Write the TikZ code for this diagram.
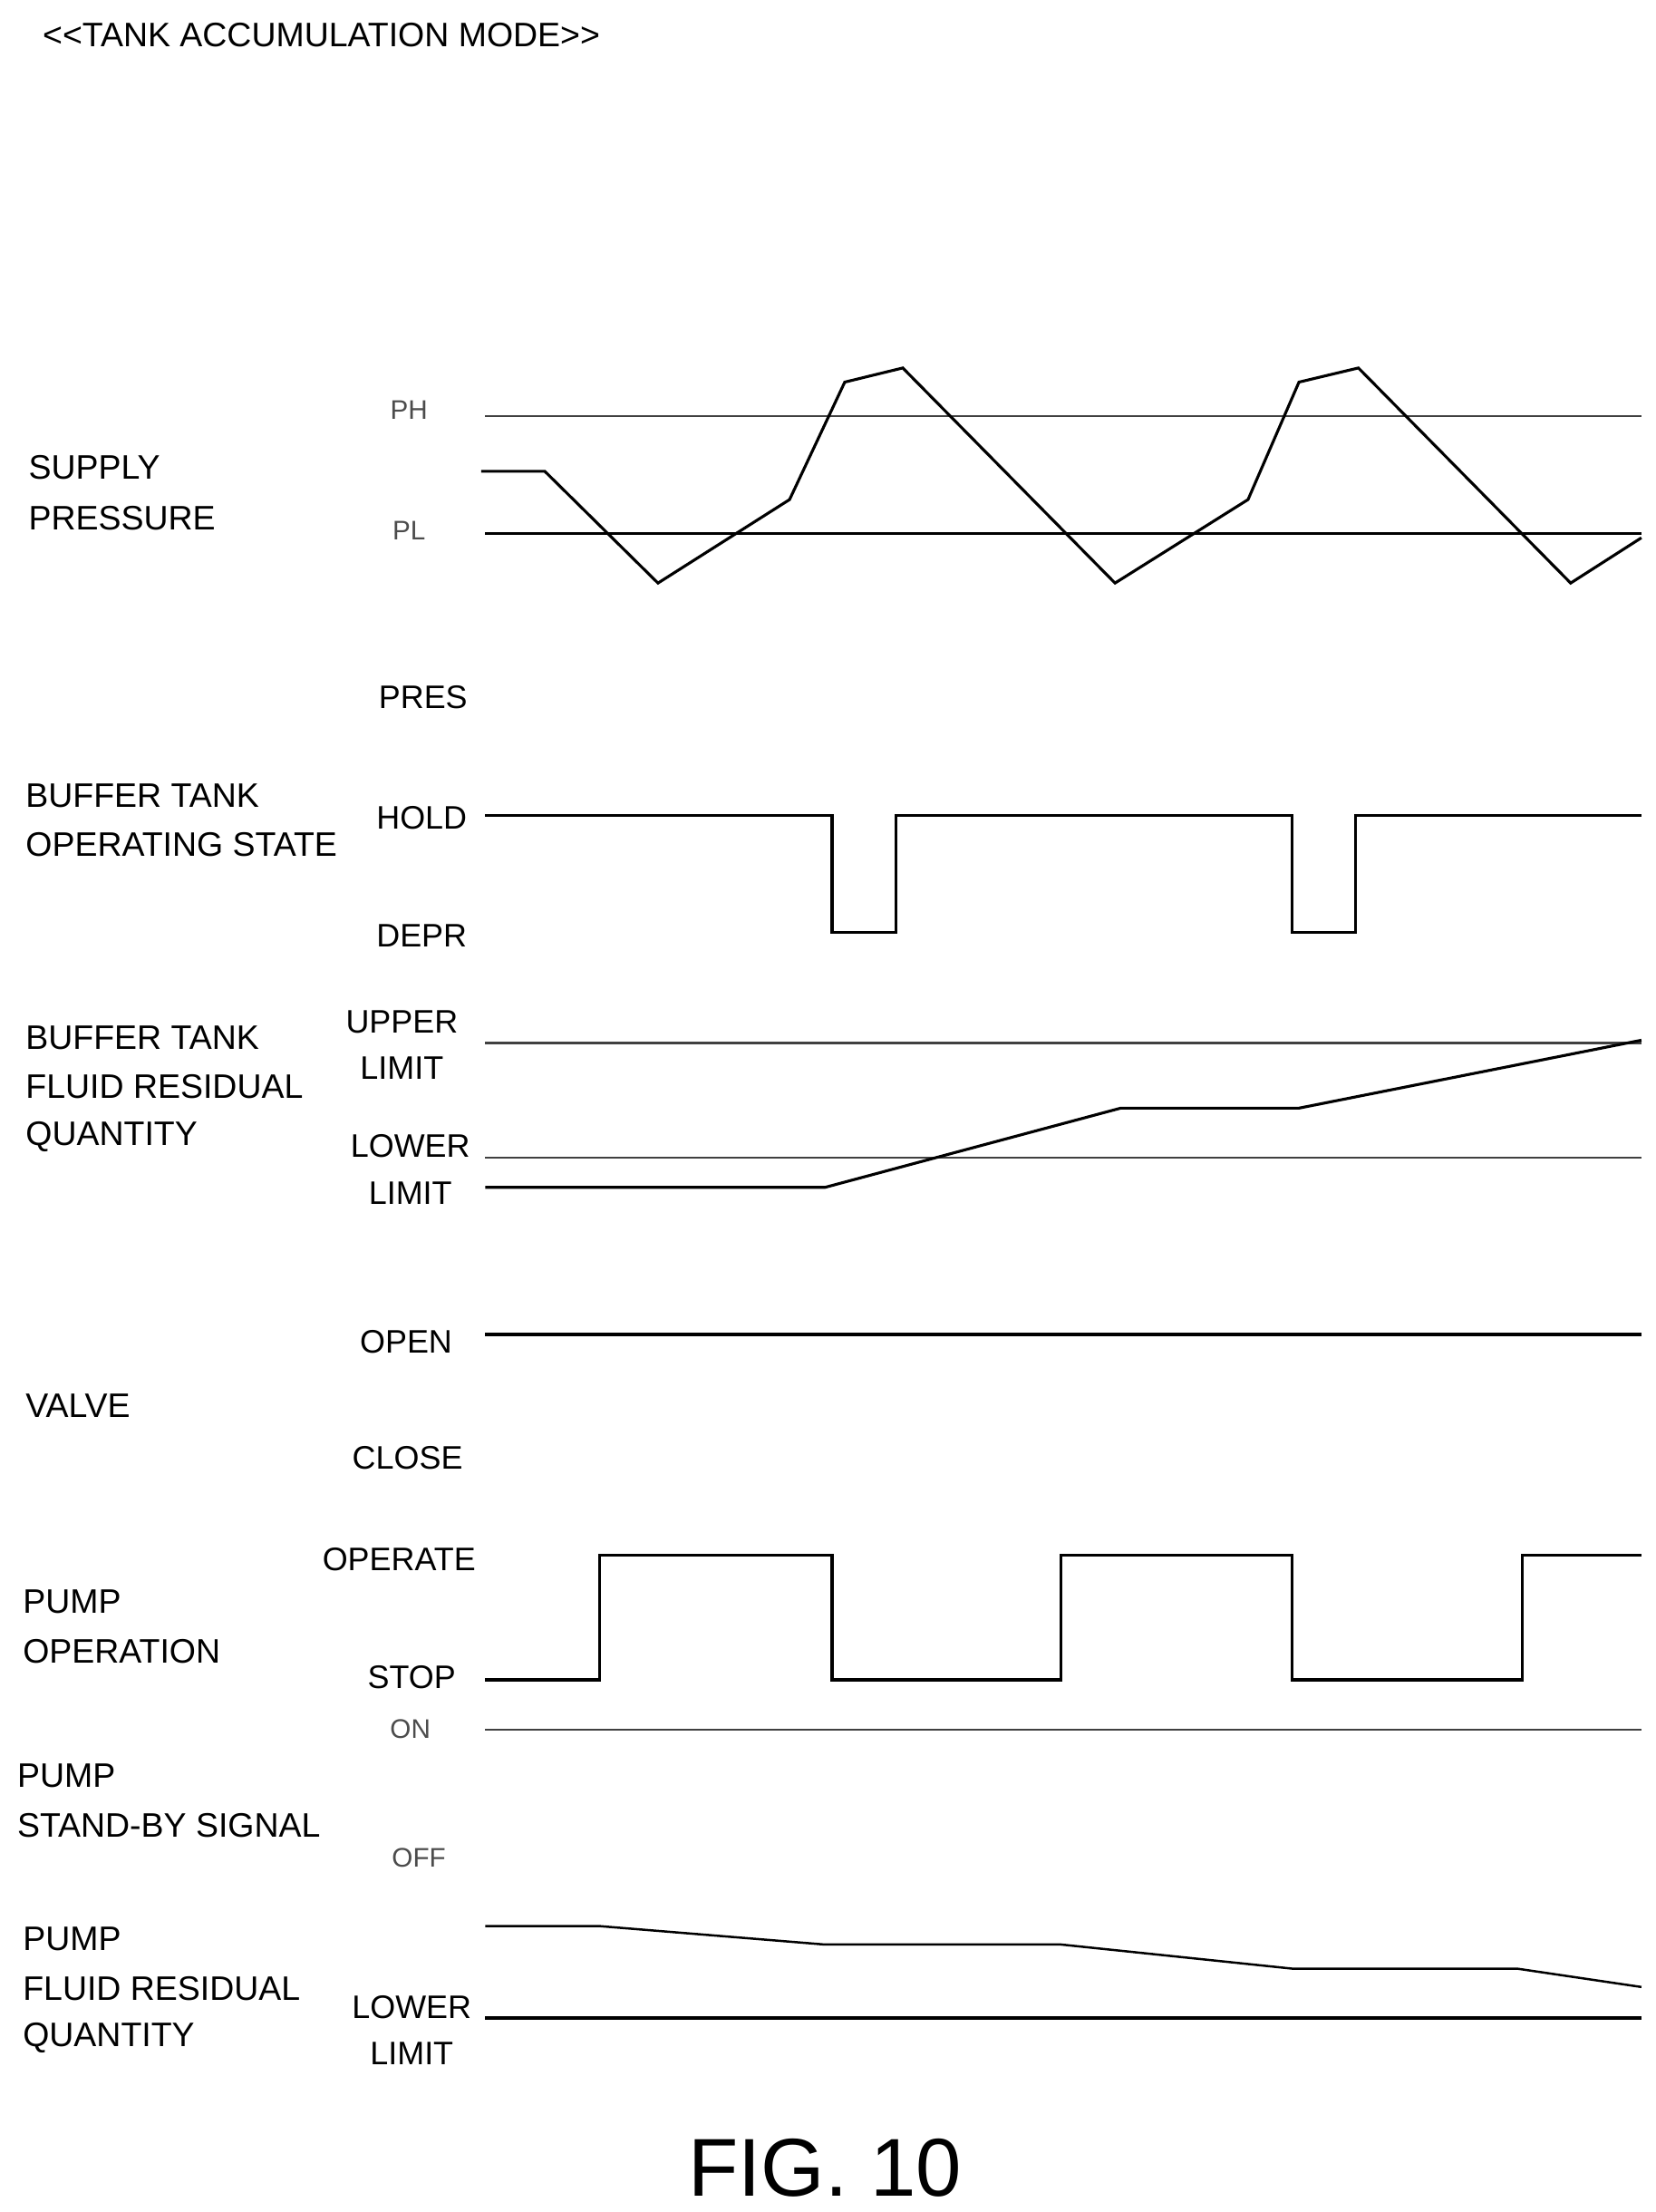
\documentclass[tikz,border=0pt]{standalone}
\usepackage{fontspec}
\setmainfont{Liberation Sans}
\begin{document}
\begin{tikzpicture}[x=1pt,y=-1pt,
  lab/.style={font=\fontsize{24}{26}\selectfont,inner sep=0pt,anchor=west},
  clab/.style={font=\fontsize{23}{26}\selectfont,inner sep=0pt},
  glab/.style={font=\fontsize{19}{22}\selectfont,inner sep=0pt,text=black!70},
  ref/.style={line width=1.4pt,black!75},
  refb/.style={line width=2.4pt},
  wave/.style={line width=2pt,line join=miter}]
\useasboundingbox (0,0) rectangle (1170,1563);
\node[lab] (title) at (30,25) {<{}<TANK ACCUMULATION MODE>{}>};
% supply pressure
\node[lab] (sp1) at (20,330) {SUPPLY};
\node[lab] (sp2) at (20,366) {PRESSURE};
\node[glab] (ph) at (289,290) {PH};
\node[glab] (pl) at (289,375) {PL};
\draw[ref] (343,294) -- (1160,294);
\draw[refb] (343,377) -- (1160,377);
\draw[wave] (340,333)--(385,333)--(465,412)--(558,353)--(597,270)--(638,260)--(788,412)--(882,353)--(918,270)--(960,260)--(1110,412)--(1160,380);
% buffer tank operating state
\node[clab] (pres) at (299,493) {PRES};
\node[lab] (bt1) at (18,562) {BUFFER TANK};
\node[lab] (bt2) at (18,597) {OPERATING STATE};
\node[clab] (hold) at (298,578) {HOLD};
\node[clab] (depr) at (298,661) {DEPR};
\draw[wave] (343,576)--(588,576)--(588,659)--(633,659)--(633,576)--(913,576)--(913,659)--(958,659)--(958,576)--(1160,576);
% buffer residual
\node[lab] (br1) at (18,733) {BUFFER TANK};
\node[lab] (br2) at (18,768) {FLUID RESIDUAL};
\node[lab] (br3) at (18,803) {QUANTITY};
\node[clab] (ul1) at (284,722) {UPPER};
\node[clab] (ul2) at (284,755) {LIMIT};
\node[clab] (ll1) at (290,810) {LOWER};
\node[clab] (ll2) at (290,843) {LIMIT};
\draw[ref] (343,737) -- (1160,737);
\draw[ref] (343,818) -- (1160,818);
\draw[wave] (343,839)--(583,839)--(792,783)--(918,783)--(1160,735);
% valve
\node[clab] (open) at (287,948) {OPEN};
\node[lab] (valve) at (18,993) {VALVE};
\node[clab] (close) at (288,1030) {CLOSE};
\draw[refb] (343,943) -- (1160,943);
% pump operation
\node[clab] (oper) at (282,1102) {OPERATE};
\node[clab] (stop) at (291,1185) {STOP};
\node[lab] (po1) at (16,1132) {PUMP};
\node[lab] (po2) at (16,1167) {OPERATION};
\draw[wave] (343,1187)--(424,1187)--(424,1099)--(588,1099)--(588,1187)--(750,1187)--(750,1099)--(913,1099)--(913,1187)--(1076,1187)--(1076,1099)--(1160,1099);
% standby
\node[glab] (on) at (290,1222) {ON};
\node[glab] (off) at (296,1313) {OFF};
\node[lab] (ps1) at (12,1255) {PUMP};
\node[lab] (ps2) at (12,1290) {STAND-BY SIGNAL};
\draw[ref] (343,1222) -- (1160,1222);
% pump residual
\node[lab] (pr1) at (16,1370) {PUMP};
\node[lab] (pr2) at (16,1405) {FLUID RESIDUAL};
\node[lab] (pr3) at (16,1440) {QUANTITY};
\node[clab] (pl1) at (291,1418) {LOWER};
\node[clab] (pl2) at (291,1451) {LIMIT};
\draw[refb] (343,1426) -- (1160,1426);
\draw[wave,line width=1.6pt] (343,1361)--(424,1361)--(583,1374)--(750,1374)--(913,1391)--(1072,1391)--(1160,1404);
\node[font=\fontsize{58}{60}\selectfont,inner sep=0pt] (fig) at (583,1532) {FIG. 10};
\end{tikzpicture}
\end{document}
